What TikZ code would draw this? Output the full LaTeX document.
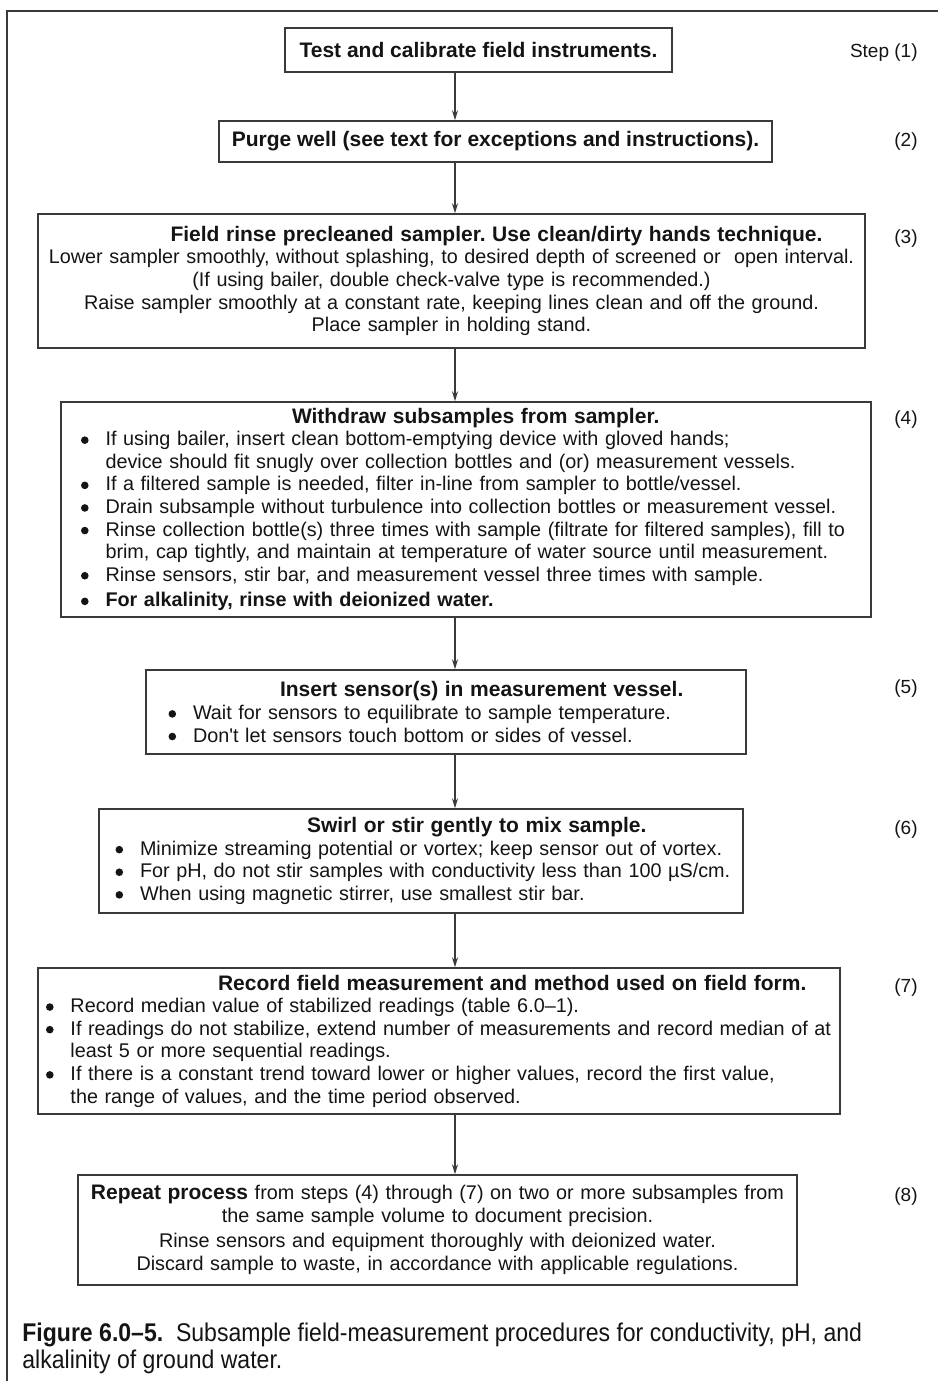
\documentclass[tikz,border=0pt]{standalone}
\usepackage{fontspec}
\setmainfont{Liberation Sans}
\newfontfamily\capfont[FakeStretch=0.9]{Liberation Sans}
\usetikzlibrary{arrows.meta}
\definecolor{fmline}{HTML}{3A3A3A}
\definecolor{fmtext}{HTML}{141414}
\frenchspacing

\newcommand{\boxhead}[1]{{\fontsize{10.5}{11.3}\selectfont\bfseries #1}}
\newcommand{\bigbul}{\tikz[baseline=-2.8pt]\fill[fmtext] (0,0) circle[radius=1.9pt];}
\newcommand{\itembul}[1]{\makebox[12.25pt][l]{\bigbul}\mbox{#1}}
\newcommand{\itemcont}[1]{\hspace*{12.25pt}\mbox{#1}}

\begin{document}
\begin{tikzpicture}[
  x=0.5pt, y=-0.5pt,
  stepbox/.style={draw=fmline, line width=0.75pt, text=fmtext, inner ysep=0pt,
                  font=\fontsize{9.9}{11.3}\selectfont},
  headbox/.style={stepbox, font=\fontsize{10.5}{12}\selectfont\bfseries,
                  inner xsep=0pt, align=center},
  listbox/.style={stepbox, align=left},
  flow/.style={-{Stealth[length=5pt,width=3pt]}, draw=fmline, line width=0.65pt},
  steplbl/.style={font=\fontsize{9.5}{11}\selectfont, text=fmtext, anchor=east, inner sep=0pt},
  capt/.style={font=\capfont\fontsize{12.8}{13.5}\selectfont, text=fmtext, align=left,
               anchor=north west, inner sep=0pt},
]
\useasboundingbox (0,0) rectangle (938,1381);

%% ---- outer frame ----
\draw[draw=fmline, line width=1pt] (7,1381) -- (7,11) -- (938,11);

%% ---- steps (1) and (2) ----
\node[headbox, minimum width=193.5pt, minimum height=22pt] (s1) at (478.5,50)
  {Test and calibrate field instruments.};
\node[headbox, minimum width=276.5pt, minimum height=20.5pt] (s2) at (495.5,141.5)
  {Purge well (see text for exceptions and instructions).};

%% ---- step (3) ----
\node[stepbox, align=center, text width=409.5pt, inner xsep=2pt, minimum height=67pt] (s3) at (451.5,281)
  {\hspace*{45pt}\boxhead{Field rinse precleaned sampler. Use clean/dirty hands technique.}\\
   Lower sampler smoothly, without splashing, to desired depth of screened or\ \ open interval.\\
   (If using bailer, double check-valve type is recommended.)\\
   Raise sampler smoothly at a constant rate, keeping lines clean and off the ground.\\
   Place sampler in holding stand.};

%% ---- step (4) ----
\node[listbox, text width=385pt, inner xsep=10pt, minimum height=107.5pt] (s4) at (466,509.5)
  {\hspace*{105.5pt}\boxhead{Withdraw subsamples from sampler.}\\
   \itembul{If using bailer, insert clean bottom-emptying device with gloved hands;}\\
   \itemcont{device should fit snugly over collection bottles and (or) measurement vessels.}\\
   \itembul{If a filtered sample is needed, filter in-line from sampler to bottle/vessel.}\\
   \itembul{Drain subsample without turbulence into collection bottles or measurement vessel.}\\
   \itembul{Rinse collection bottle(s) three times with sample (filtrate for filtered samples), fill to}\\
   \itemcont{brim, cap tightly, and maintain at temperature of water source until measurement.}\\
   \itembul{Rinse sensors, stir bar, and measurement vessel three times with sample.}\\[1.5pt]
   \itembul{\textbf{For alkalinity, rinse with deionized water.}}};

%% ---- step (5) ----
\node[listbox, text width=277.5pt, inner xsep=11.25pt, minimum height=42pt] (s5) at (446,712)
  {\hspace*{55.75pt}\boxhead{Insert sensor(s) in measurement vessel.}\\
   \itembul{Wait for sensors to equilibrate to sample temperature.}\\
   \itembul{Don\textquotesingle t let sensors touch bottom or sides of vessel.}};

%% ---- step (6) ----
\node[listbox, text width=305.5pt, inner xsep=8.25pt, minimum height=52pt] (s6) at (421,861)
  {\hspace*{95.75pt}\boxhead{Swirl or stir gently to mix sample.}\\
   \itembul{Minimize streaming potential or vortex; keep sensor out of vortex.}\\
   \itembul{For pH, do not stir samples with conductivity less than 100 µS/cm.}\\
   \itembul{When using magnetic stirrer, use smallest stir bar.}};

%% ---- step (7) ----
\node[listbox, text width=393pt, inner xsep=4pt, minimum height=73pt] (s7) at (439,1041)
  {\hspace*{86pt}\boxhead{Record field measurement and method used on field form.}\\
   \itembul{Record median value of stabilized readings (table 6.0–1).}\\
   \itembul{If readings do not stabilize, extend number of measurements and record median of at}\\
   \itemcont{least 5 or more sequential readings.}\\
   \itembul{If there is a constant trend toward lower or higher values, record the first value,}\\
   \itemcont{the range of values, and the time period observed.}};

%% ---- step (8) ----
\node[stepbox, align=center, text width=351.5pt, inner xsep=4pt, minimum height=55pt] (s8) at (437.5,1230)
  {\boxhead{Repeat process} from steps (4) through (7) on two or more subsamples from\\
   the same sample volume to document precision.\\[1.5pt]
   Rinse sensors and equipment thoroughly with deionized water.\\
   Discard sample to waste, in accordance with applicable regulations.};

%% ---- connectors ----
\coordinate (ax) at (455,0);
\draw[flow] (s1.south -| ax) -- (s2.north -| ax);
\draw[flow] (s2.south -| ax) -- (s3.north -| ax);
\draw[flow] (s3.south -| ax) -- (s4.north -| ax);
\draw[flow] (s4.south -| ax) -- (s5.north -| ax);
\draw[flow] (s5.south -| ax) -- (s6.north -| ax);
\draw[flow] (s6.south -| ax) -- (s7.north -| ax);
\draw[flow] (s7.south -| ax) -- (s8.north -| ax);

%% ---- step numbers in the right margin ----
\node[steplbl] (n1) at (918,53)   {Step (1)};
\node[steplbl] (n2) at (918,142)  {(2)};
\node[steplbl] (n3) at (918,239)  {(3)};
\node[steplbl] (n4) at (918,420)  {(4)};
\node[steplbl] (n5) at (918,689)  {(5)};
\node[steplbl] (n6) at (918,830)  {(6)};
\node[steplbl] (n7) at (918,988)  {(7)};
\node[steplbl] (n8) at (918,1197) {(8)};

%% ---- caption ----
\node[capt] (cap) at (22,1323)
  {\textbf{Figure 6.0–5.}\ \ Subsample field-measurement procedures for conductivity, pH, and\\
   alkalinity of ground water.};

\end{tikzpicture}
\end{document}
